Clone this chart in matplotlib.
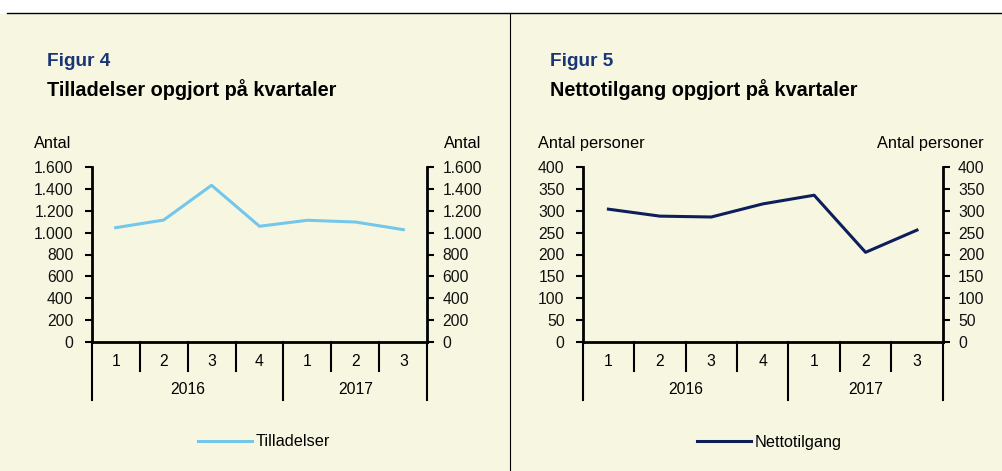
import matplotlib
matplotlib.use("Agg")
import matplotlib.pyplot as plt
from matplotlib.patches import Rectangle
from matplotlib.lines import Line2D

plt.rcParams['font.family'] = ['Liberation Sans', 'DejaVu Sans']

quarters = ["1", "2", "3", "4", "1", "2", "3"]
years = ["2016", "2017"]
year_counts = [4, 3]

tilladelser = [1046, 1116, 1435, 1059, 1114, 1098, 1028]
nettotilgang = [304, 288, 286, 316, 336, 205, 256]

W, H = 1002, 471
fig = plt.figure(figsize=(W / 100, H / 100), dpi=100)
fig.patch.set_facecolor("white")

BG = "#F7F7E1"
fig.add_artist(Rectangle((0, 0), 1, (H - 14) / H, transform=fig.transFigure,
                         facecolor=BG, edgecolor="none", zorder=0))
fig.add_artist(Line2D([7 / W, 1], [(H - 13) / H] * 2, transform=fig.transFigure,
                      color="black", lw=1.0))
fig.add_artist(Line2D([510 / W] * 2, [0, (H - 13) / H], transform=fig.transFigure,
                      color="black", lw=0.8))


def fx(x):
    return x / W


def fy(y):
    return 1 - y / H


FS = 11.3
TITLE_COL = "#1A3575"
Y0, Y1 = 341.7, 167.3


def make_panel(x0, x1, values, ymax, ystep, fmt, color, fig_label, title,
               unit, unit_right_x, label_name, legend_x):
    ax = fig.add_axes([fx(x0), fy(Y0), fx(x1) - fx(x0), fy(Y1) - fy(Y0)])
    ax.set_facecolor("none")
    n = len(values)
    xs = list(range(n))
    line, = ax.plot(xs, values, color=color, lw=2.2, label=label_name)
    ax.set_xlim(-0.5, n - 0.5)
    ax.set_ylim(0, ymax)
    ticks = list(range(0, ymax + 1, ystep))
    labels = [fmt(t) for t in ticks]
    ax.set_yticks(ticks)
    ax.set_yticklabels(labels)
    ax.set_xticks([])
    ax.spines["top"].set_visible(False)
    ax.spines["right"].set_visible(False)
    for s in ["left", "bottom"]:
        ax.spines[s].set_linewidth(2.0)
    ax.tick_params(axis="y", direction="out", length=5, width=1.5, labelsize=FS,
                   pad=8, labelcolor="#111111")

    ax2 = ax.twinx()
    ax2.set_ylim(0, ymax)
    ax2.set_yticks(ticks)
    ax2.set_yticklabels(labels)
    for s in ["top", "left", "bottom"]:
        ax2.spines[s].set_visible(False)
    ax2.spines["right"].set_linewidth(2.0)
    ax2.tick_params(axis="y", direction="out", length=5, width=1.5, labelsize=FS,
                    pad=6, labelcolor="#111111")

    # hierarchical x-axis labels
    trans = ax.get_xaxis_transform()
    span = Y0 - Y1
    for i, q in enumerate(quarters[:n]):
        ax.text(i, -(361 - Y0) / span, q, transform=trans, ha="center",
                va="center", fontsize=FS)
    start = 0
    year_bounds = [-0.5]
    for yname, cnt in zip(years, year_counts):
        mid = start + (cnt - 1) / 2
        ax.text(mid, -(390 - Y0) / span, yname, transform=trans, ha="center",
                va="center", fontsize=FS)
        start += cnt
        year_bounds.append(start - 0.5)
    q_len = 29 / span
    y_len = 58.5 / span
    for b in [i - 0.5 for i in range(n + 1)]:
        ln = y_len if b in year_bounds else q_len
        ax.add_line(Line2D([b, b], [0, -ln], transform=trans, color="black",
                           lw=1.5, clip_on=False))

    fig.text(fx(fig_label[1]), fy(62), fig_label[0], fontsize=13.7,
             fontweight="bold", color=TITLE_COL, ha="left", va="center")
    fig.text(fx(fig_label[1]), fy(90), title, fontsize=14.3, fontweight="bold",
             color="black", ha="left", va="center")
    fig.text(fx(unit[1]), fy(144), unit[0], fontsize=11.8, ha="left", va="center")
    fig.text(fx(unit_right_x), fy(144), unit[0], fontsize=11.8, ha="right", va="center")

    fig.legend(handles=[line], loc="center left",
               bbox_to_anchor=(fx(legend_x), fy(442)), frameon=False,
               fontsize=11.7, handlelength=3.3, handletextpad=0.25,
               borderaxespad=0, borderpad=0)
    return ax


make_panel(91.7, 427.3, tilladelser, 1600, 200,
           lambda v: f"{v:,}".replace(",", "."), "#74C7EA",
           ("Figur 4", 47), "Tilladelser opgjort på kvartaler",
           ("Antal", 34), 481, "Tilladelser", 198)

make_panel(582.7, 942.7, nettotilgang, 400, 50,
           lambda v: str(v), "#0E1E5B",
           ("Figur 5", 550), "Nettotilgang opgjort på kvartaler",
           ("Antal personer", 538), 984, "Nettotilgang", 697)

fig.savefig("out.png", dpi=100)
